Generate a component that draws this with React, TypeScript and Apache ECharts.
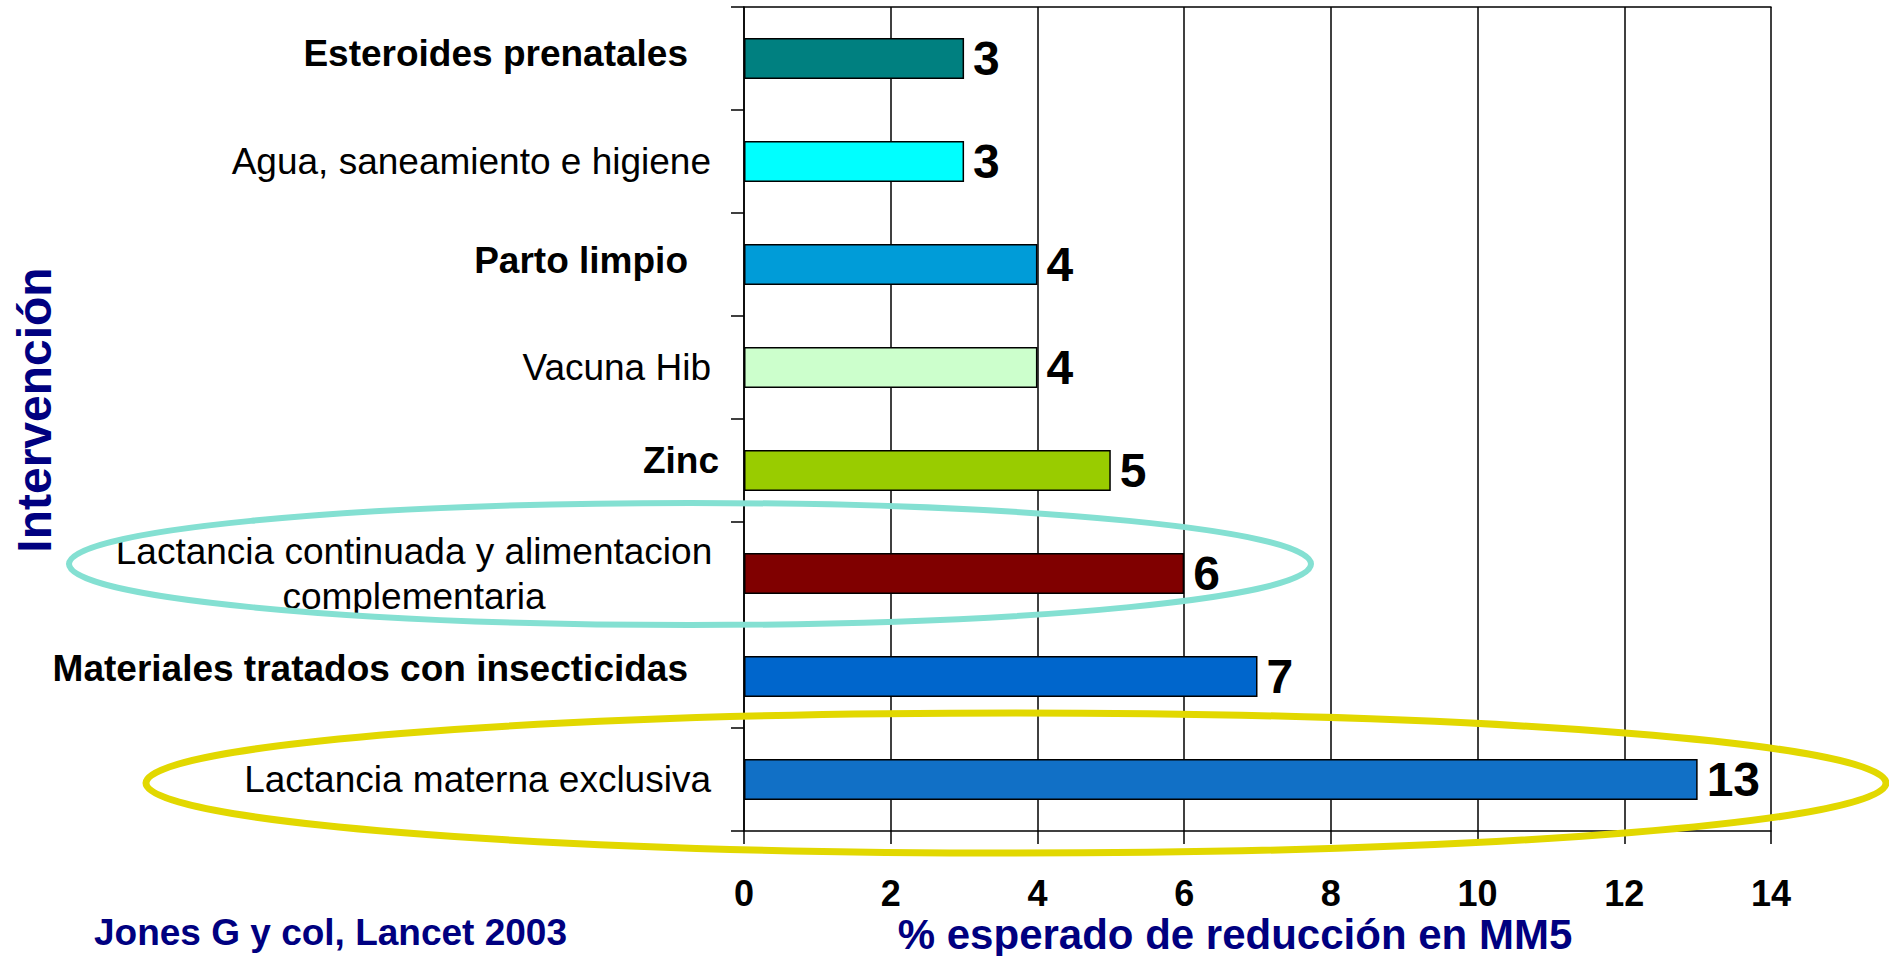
import React, { useEffect, useRef } from "react";
import * as echarts from "echarts";

const categories: string[] = [
  "Esteroides prenatales",
  "Agua, saneamiento e higiene",
  "Parto limpio",
  "Vacuna Hib",
  "Zinc",
  "Lactancia continuada y alimentacion\ncomplementaria",
  "Materiales tratados con insecticidas",
  "Lactancia materna exclusiva",
];
const values: number[] = [3, 3, 4, 4, 5, 6, 7, 13];
const barColors: string[] = [
  "#008080",
  "#00FFFF",
  "#009CD8",
  "#CCFFCC",
  "#99CC00",
  "#800000",
  "#0066CC",
  "#1170C6",
];
const boldLabels: boolean[] = [true, false, true, false, true, false, true, false];
const xMin = 0;
const xMax = 14;
const xInterval = 2;
const xAxisTitle = "% esperado de reducción en MM5";
const yAxisTitle = "Intervención";
const sourceNote = "Jones G y col, Lancet 2003";

const FONT = "'Liberation Sans', Arial, Helvetica, sans-serif";
const NAVY = "#000080";

// label style tweaks (right padding, bottom padding) per row
const padRight = [31, 8, 31, 8, 0, 0, 31, 8];
const padBottom = [10, 0, 8, 0, 20, 0, 16, 0];

export default function App() {
  const ref = useRef<HTMLDivElement>(null);

  useEffect(() => {
    if (!ref.current) return;
    const chart = echarts.init(ref.current, null, { renderer: "svg" });

    const rich: Record<string, any> = {};
    categories.forEach((c, i) => {
      const multi = c.includes("\n");
      rich["l" + i] = {
        fontFamily: FONT,
        fontSize: 37,
        fontWeight: boldLabels[i] ? "bold" : "normal",
        color: "#000",
        lineHeight: multi ? 45 : 44,
        padding: [0, padRight[i], padBottom[i], 0],
        ...(multi ? { width: 610, align: "center" } : {}),
      };
    });

    const option: any = {
      animation: false,
      grid: { left: 744, right: 118, top: 7, bottom: 125, containLabel: false },
      xAxis: [
        {
          type: "value",
          min: xMin,
          max: xMax,
          interval: xInterval,
          position: "bottom",
          axisLine: { show: true, lineStyle: { color: "#000", width: 1.5 } },
          axisTick: { show: true, length: 13, lineStyle: { color: "#000", width: 1.5 } },
          splitLine: { show: true, lineStyle: { color: "#000", width: 1.5 } },
          axisLabel: {
            margin: 44,
            fontFamily: FONT,
            fontSize: 36,
            fontWeight: "bold",
            color: "#000",
          },
        },
        {
          type: "value",
          min: xMin,
          max: xMax,
          interval: xInterval,
          position: "top",
          axisLine: { show: true, lineStyle: { color: "#000", width: 1.5 } },
          axisTick: { show: false },
          splitLine: { show: false },
          axisLabel: { show: false },
        },
      ],
      yAxis: {
        type: "category",
        data: categories,
        inverse: true,
        axisLine: { show: true, lineStyle: { color: "#000", width: 1.5 } },
        axisTick: { show: true, length: 13, lineStyle: { color: "#000", width: 1.5 } },
        splitLine: { show: false },
        axisLabel: {
          margin: 25,
          interval: 0,
          formatter: (v: string, idx: number) =>
            v
              .split("\n")
              .map((line) => `{l${idx}|${line}}`)
              .join("\n"),
          rich,
        },
      },
      series: [
        {
          type: "bar",
          xAxisIndex: 0,
          data: values.map((v, i) => ({
            value: v,
            itemStyle: { color: barColors[i] },
          })),
          barWidth: 41,
          itemStyle: { borderColor: "#000", borderWidth: 1.5 },
          label: {
            show: true,
            position: "right",
            distance: 9,
            fontFamily: FONT,
            fontSize: 48,
            fontWeight: "bold",
            color: "#000",
          },
        },
      ],
      graphic: [
        {
          type: "text",
          x: 34,
          y: 410,
          rotation: Math.PI / 2,
          style: {
            text: yAxisTitle,
            fontFamily: FONT,
            fontSize: 48,
            fontWeight: "bold",
            fill: NAVY,
            textAlign: "center",
            textVerticalAlign: "middle",
          },
        },
        {
          type: "text",
          x: 1235,
          y: 934,
          style: {
            text: xAxisTitle,
            fontFamily: FONT,
            fontSize: 42,
            fontWeight: "bold",
            fill: NAVY,
            textAlign: "center",
            textVerticalAlign: "middle",
          },
        },
        {
          type: "text",
          x: 94,
          y: 932,
          style: {
            text: sourceNote,
            fontFamily: FONT,
            fontSize: 37,
            fontWeight: "bold",
            fill: NAVY,
            textAlign: "left",
            textVerticalAlign: "middle",
          },
        },
        {
          type: "ellipse",
          z: 100,
          shape: { cx: 690, cy: 564, rx: 621, ry: 61 },
          style: { fill: "none", stroke: "#84E0D2", lineWidth: 6 },
        },
        {
          type: "ellipse",
          z: 100,
          shape: { cx: 1016, cy: 783, rx: 870, ry: 70 },
          style: { fill: "none", stroke: "#E2D800", lineWidth: 7 },
        },
      ],
    };

    chart.setOption(option);
    return () => chart.dispose();
  }, []);

  return (
    <div
      ref={ref}
      style={{ position: "absolute", left: 0, top: 0, width: 1889, height: 956 }}
    />
  );
}
